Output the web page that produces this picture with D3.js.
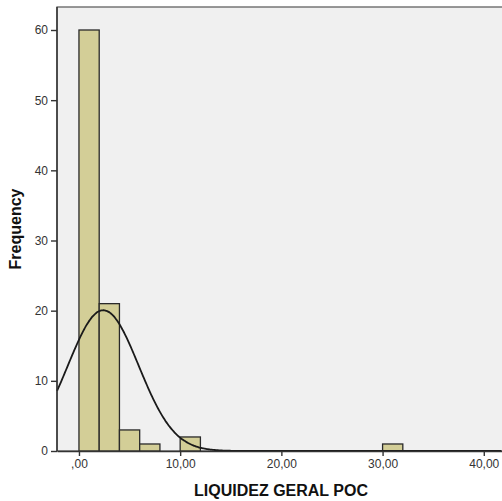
<!DOCTYPE html>
<html>
<head>
<meta charset="utf-8">
<script src="https://cdn.jsdelivr.net/npm/d3@7"></script>
<style>
  body { margin: 0; background: #fff; }
  text { font-family: "Liberation Sans", Arial, sans-serif; }
</style>
</head>
<body>
<svg width="502" height="501"></svg>
<script>
// histogram bins (lower edge, width 2) and counts
const binStarts = [0, 2, 4, 6, 8, 10, 30];
const binCounts = [60, 21, 3, 1, 0, 2, 1];
const binWidth = 2;
const xTicks = [0, 10, 20, 30, 40];
const yTicks = [0, 10, 20, 30, 40, 50, 60];
// normal curve parameters
const total = 88;
const mean = 2.4;
const sd = 3.5;

const svg = d3.select('svg');
const plotL = 57, plotT = 7, plotR = 502, plotB = 451;

const x = d3.scaleLinear().domain([-2.17, 41.8]).range([plotL, plotR]);
const y = d3.scaleLinear().domain([0, 60]).range([plotB, 30]);

// plot background
svg.append('rect')
    .attr('x', plotL).attr('y', plotT)
    .attr('width', plotR - plotL + 5).attr('height', plotB - plotT)
    .attr('fill', '#f0f0f0')
    .attr('stroke', '#555').attr('stroke-width', 1.2);

const g = svg.append('g');

g.selectAll('rect.bar')
    .data(binStarts.map((s, i) => ({ s: s, c: binCounts[i] })).filter(d => d.c > 0))
    .enter().append('rect')
    .attr('class', 'bar')
    .attr('x', d => x(d.s))
    .attr('y', d => y(d.c))
    .attr('width', d => x(d.s + binWidth) - x(d.s))
    .attr('height', d => y(0) - y(d.c))
    .attr('fill', '#d3ce97')
    .attr('stroke', '#2a2a2a')
    .attr('stroke-width', 1.3);

// normal curve
const curvePts = d3.range(-2.17, 41.8, 0.1).map(v => [v,
    total * binWidth / (sd * Math.sqrt(2 * Math.PI)) * Math.exp(-0.5 * Math.pow((v - mean) / sd, 2))]);
g.append('path')
    .datum(curvePts)
    .attr('fill', 'none')
    .attr('stroke', '#1a1a1a')
    .attr('stroke-width', 1.8)
    .attr('d', d3.line().x(d => x(d[0])).y(d => y(d[1])).curve(d3.curveBasis));

// axes
const xAxis = svg.append('g')
    .attr('transform', `translate(0,${plotB})`)
    .call(d3.axisBottom(x).tickValues(xTicks).tickSize(5).tickSizeOuter(0)
        .tickFormat(d => d === 0 ? ',00' : d + ',00'));
const yAxis = svg.append('g')
    .attr('transform', `translate(${plotL},0)`)
    .call(d3.axisLeft(y).tickValues(yTicks).tickSize(6).tickSizeOuter(0));

[xAxis, yAxis].forEach(a => {
    a.select('.domain').attr('stroke', '#333').attr('stroke-width', 1.5);
    a.selectAll('.tick line').attr('stroke', '#333').attr('stroke-width', 1.4);
    a.selectAll('.tick text').attr('fill', '#333').style('font-size', '12px')
        .style('font-family', '"Liberation Sans", Arial, sans-serif');
});
yAxis.selectAll('.tick text').attr('x', -9);
xAxis.selectAll('.tick text').attr('y', 8);
yAxis.select('.domain').attr('d', `M0,${plotT}V${plotB}`);

svg.append('text')
    .attr('x', 281).attr('y', 496)
    .attr('text-anchor', 'middle')
    .style('font-size', '16px').style('font-weight', 'bold')
    .attr('fill', '#111')
    .text('LIQUIDEZ GERAL POC');

svg.append('text')
    .attr('transform', 'translate(21,229) rotate(-90)')
    .attr('text-anchor', 'middle')
    .style('font-size', '16px').style('font-weight', 'bold')
    .attr('fill', '#111')
    .text('Frequency');
</script>
</body>
</html>
